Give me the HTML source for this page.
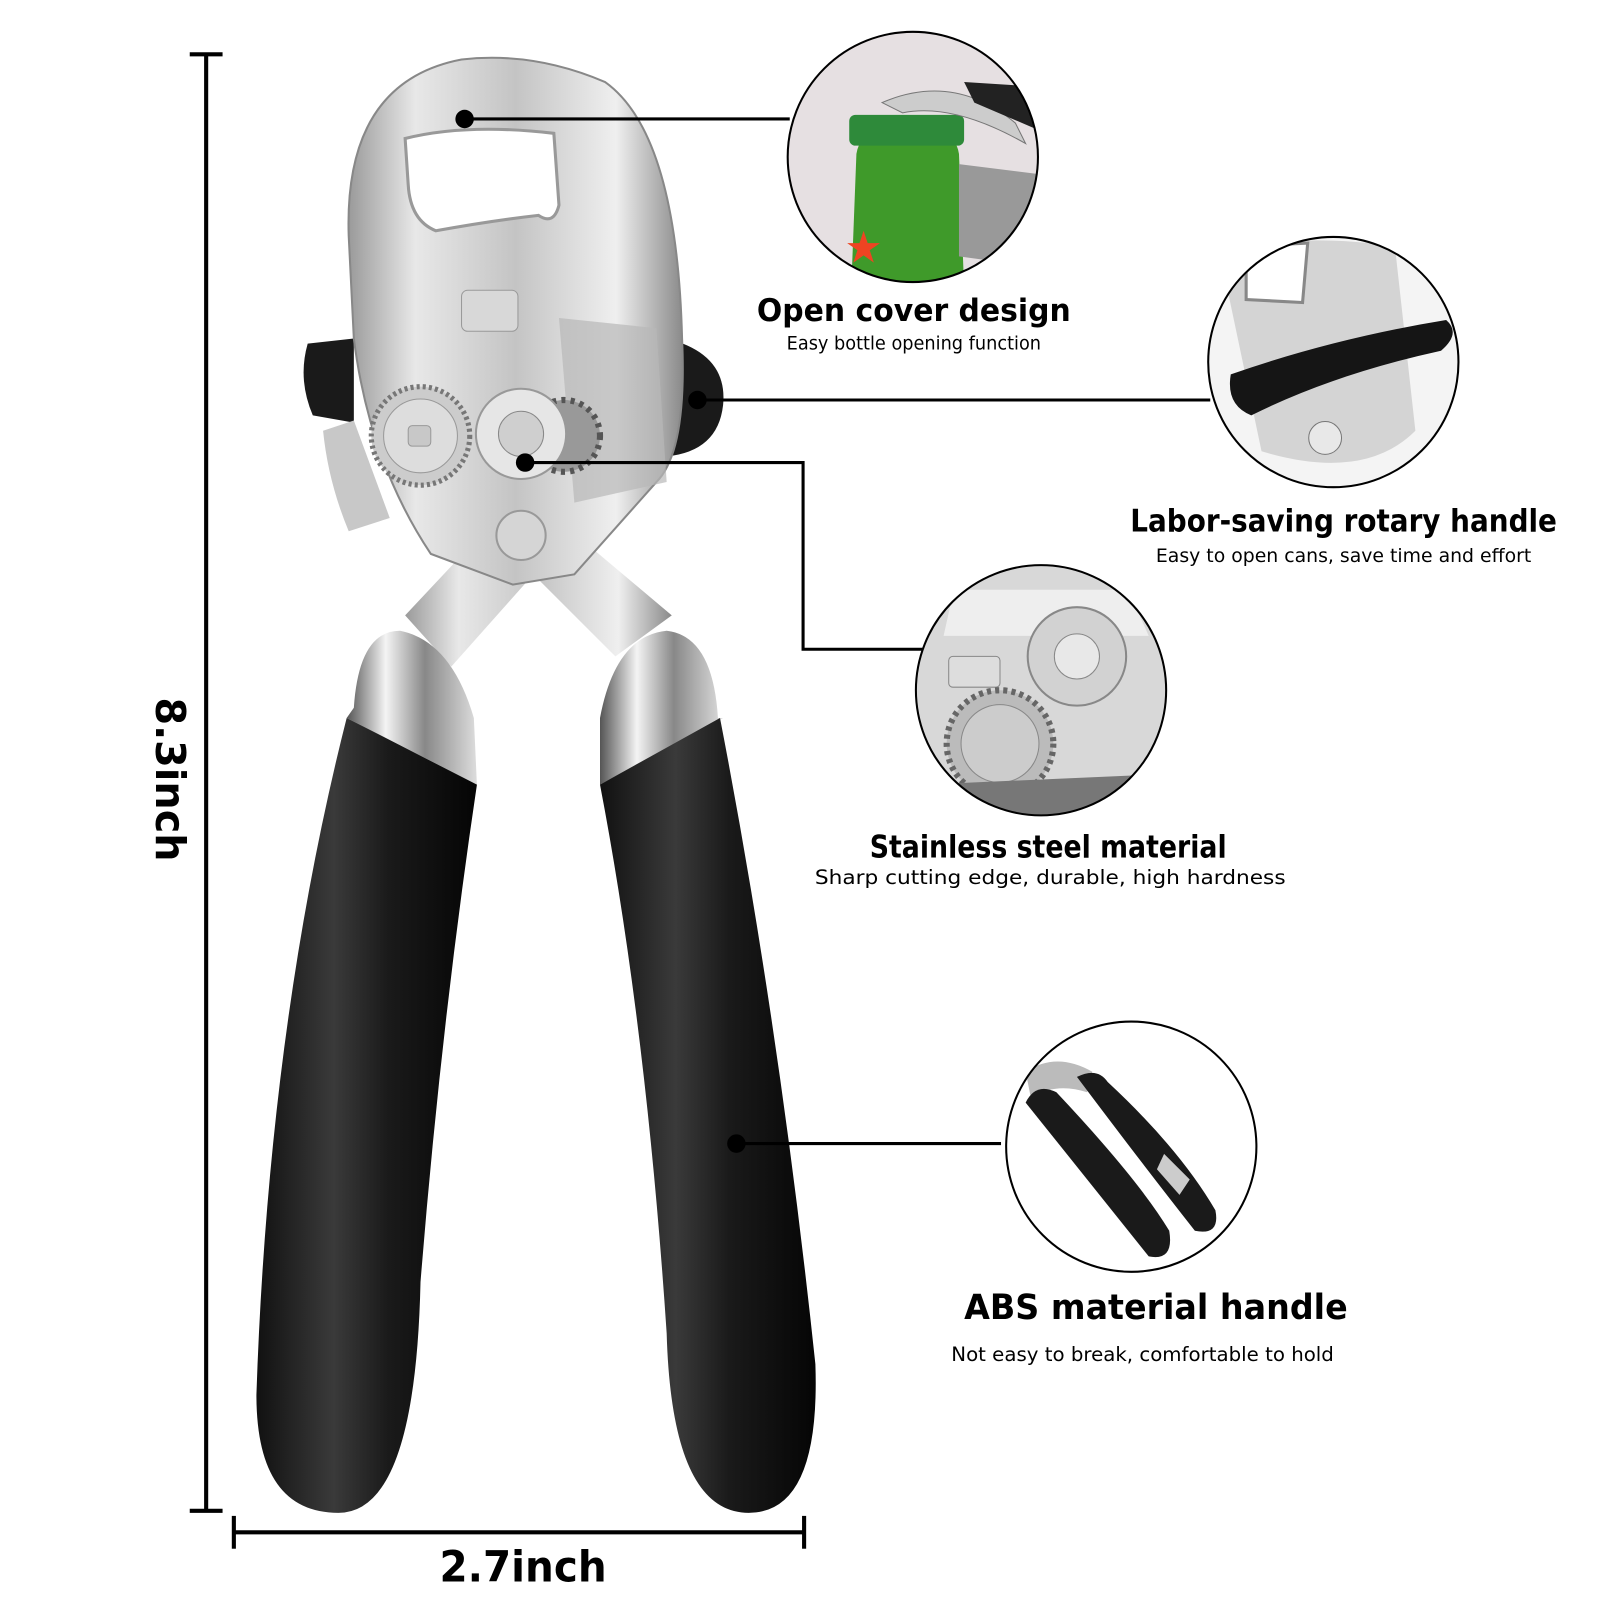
<!DOCTYPE html>
<html><head><meta charset="utf-8"><style>
html,body{margin:0;padding:0;background:#fff;}
svg{display:block;}
text{font-family:"DejaVu Sans","Liberation Sans",sans-serif;}
</style></head><body>
<svg width="1600" height="1600" viewBox="0 0 1560 1560" xmlns="http://www.w3.org/2000/svg">
<defs>
<linearGradient id="steel" x1="0" x2="1" y1="0" y2="0">
<stop offset="0" stop-color="#9a9a9a"/><stop offset="0.2" stop-color="#e8e8e8"/><stop offset="0.5" stop-color="#c4c4c4"/><stop offset="0.8" stop-color="#efefef"/><stop offset="1" stop-color="#8a8a8a"/></linearGradient>
<linearGradient id="blk" x1="0" x2="1"><stop offset="0" stop-color="#111"/><stop offset="0.35" stop-color="#3a3a3a"/><stop offset="0.6" stop-color="#1a1a1a"/><stop offset="1" stop-color="#050505"/></linearGradient>
<linearGradient id="chrome" x1="0" x2="1"><stop offset="0" stop-color="#555"/><stop offset="0.3" stop-color="#f4f4f4"/><stop offset="0.6" stop-color="#888"/><stop offset="1" stop-color="#ddd"/></linearGradient>
<clipPath id="c1"><circle cx="890" cy="153" r="122"/></clipPath>
<clipPath id="c2"><circle cx="1300" cy="353" r="122"/></clipPath>
<clipPath id="c3"><circle cx="1015" cy="673" r="122"/></clipPath>
<clipPath id="c4"><circle cx="1103" cy="1118" r="122"/></clipPath>
</defs>
<rect width="1560" height="1560" fill="#fff"/>

<g stroke="#000" stroke-width="4" fill="none">
<line x1="201" y1="53" x2="201" y2="1473"/><line x1="185" y1="53" x2="217" y2="53"/><line x1="185" y1="1473" x2="217" y2="1473"/>
<line x1="228" y1="1494" x2="784" y2="1494"/><line x1="228" y1="1478" x2="228" y2="1510"/><line x1="784" y1="1478" x2="784" y2="1510"/>
</g>
<text transform="translate(152,760) rotate(90)" text-anchor="middle" font-size="40" font-weight="bold" textLength="160" lengthAdjust="spacingAndGlyphs">8.3inch</text>
<text x="510" y="1542" text-anchor="middle" font-size="42" font-weight="bold" textLength="163" lengthAdjust="spacingAndGlyphs">2.7inch</text>

<path d="M300,335 Q290,370 305,405 L345,412 L345,330 Z" fill="#1a1a1a"/>
<path d="M650,330 Q710,345 705,395 Q700,440 650,445 Z" fill="#1a1a1a"/>
<path d="M315,420 L345,410 L380,505 L340,518 Q320,470 315,420 Z" fill="#c8c8c8"/>
<path d="M395,600 L470,520 L560,520 L655,600 L600,640 L520,560 L440,650 Z" fill="url(#steel)"/>
<path d="M340,230 Q335,80 450,58 Q520,50 590,80 Q660,130 665,330 Q670,440 640,470 L560,560 L500,570 L420,540 Q360,450 345,330 Z" fill="url(#steel)" stroke="#888" stroke-width="2"/>
<path d="M395,135 Q455,120 540,130 L545,200 Q540,220 525,210 Q480,215 425,225 Q400,215 398,180 Z" fill="#fff" stroke="#999" stroke-width="3"/>
<rect x="450" y="283" width="55" height="40" rx="6" fill="#d8d8d8" stroke="#999"/>
<path d="M545,310 L640,320 L650,470 L560,490 Z" fill="#b8b8b8" opacity="0.7"/>
<circle cx="410" cy="425" r="48" fill="#ccc" stroke="#777" stroke-width="5" stroke-dasharray="3 3"/>
<circle cx="410" cy="425" r="36" fill="#ddd" stroke="#999"/>
<rect x="398" y="415" width="22" height="20" rx="4" fill="#c8c8c8" stroke="#999"/>
<circle cx="550" cy="425" r="35" fill="#999" stroke="#555" stroke-width="6" stroke-dasharray="4 5"/>
<circle cx="508" cy="423" r="44" fill="#e6e6e6" stroke="#999" stroke-width="2"/>
<circle cx="508" cy="423" r="22" fill="#cfcfcf" stroke="#888"/>
<circle cx="508" cy="522" r="24" fill="#d5d5d5" stroke="#999" stroke-width="2"/>

<path d="M345,690 Q350,615 390,615 Q440,625 462,700 L465,765 L338,700 Z" fill="url(#chrome)"/>
<path d="M338,700 L465,765 Q430,1000 410,1250 Q405,1475 330,1475 Q250,1475 250,1360 Q262,1000 338,700 Z" fill="url(#blk)"/>
<path d="M585,700 Q600,620 650,615 Q695,620 700,700 L705,700 L585,765 Z" fill="url(#chrome)"/>
<path d="M585,765 L702,700 Q760,1000 795,1330 Q800,1475 730,1475 Q655,1475 650,1300 Q630,1000 585,765 Z" fill="url(#blk)"/>

<g stroke="#000" stroke-width="3" fill="none">
<line x1="453" y1="116" x2="770" y2="116"/>
<line x1="680" y1="390" x2="1180" y2="390"/>
<polyline points="512,451 783,451 783,633 900,633"/>
<line x1="718" y1="1115" x2="976" y2="1115"/>
</g>
<g fill="#000"><circle cx="453" cy="116" r="9"/><circle cx="680" cy="390" r="9"/><circle cx="512" cy="451" r="9"/><circle cx="718" cy="1115" r="9"/></g>

<g clip-path="url(#c1)">
<rect x="760" y="30" width="260" height="250" fill="#e6e0e2"/>
<path d="M830,280 L835,150 Q840,120 885,118 Q930,120 935,150 L940,280 Z" fill="#3f9a2a"/>
<rect x="828" y="112" width="112" height="30" rx="6" fill="#2e8a3a"/>
<path d="M860,100 Q930,70 990,120 L1000,140 Q930,100 880,110 Z" fill="#ccc" stroke="#777"/>
<path d="M940,80 L1020,85 L1020,130 L950,100 Z" fill="#222"/>
<path d="M935,160 L1015,170 L1010,260 L935,250 Z" fill="#999"/>
<polygon points="842,225 846,237 858,237 848,244 852,256 842,249 832,256 836,244 826,237 838,237" fill="#e42"/>
</g>
<circle cx="890" cy="153" r="122" fill="none" stroke="#000" stroke-width="2"/>

<g clip-path="url(#c2)">
<rect x="1170" y="230" width="260" height="250" fill="#f4f4f4"/>
<path d="M1190,250 Q1250,225 1360,240 L1380,420 Q1330,470 1230,440 Z" fill="#d4d4d4"/>
<path d="M1215,240 L1275,237 L1270,295 L1215,292 Z" fill="#fff" stroke="#888" stroke-width="3"/>
<path d="M1200,365 Q1300,330 1410,312 Q1425,325 1405,342 Q1300,365 1220,405 Q1195,395 1200,365 Z" fill="#151515"/>
<circle cx="1292" cy="427" r="16" fill="#e8e8e8" stroke="#777"/>
</g>
<circle cx="1300" cy="353" r="122" fill="none" stroke="#000" stroke-width="2"/>

<g clip-path="url(#c3)">
<rect x="890" y="550" width="250" height="250" fill="#d8d8d8"/>
<path d="M930,575 L1100,575 L1120,620 L920,620 Z" fill="#eee"/>
<rect x="925" y="640" width="50" height="30" rx="4" fill="#ddd" stroke="#888"/>
<circle cx="975" cy="725" r="52" fill="#bbb" stroke="#666" stroke-width="6" stroke-dasharray="4 4"/>
<circle cx="975" cy="725" r="38" fill="#ccc" stroke="#888"/>
<circle cx="1050" cy="640" r="48" fill="#d2d2d2" stroke="#888" stroke-width="2"/>
<circle cx="1050" cy="640" r="22" fill="#e8e8e8" stroke="#888"/>
<path d="M900,765 L1130,755 L1130,800 L900,800 Z" fill="#777"/>
</g>
<circle cx="1015" cy="673" r="122" fill="none" stroke="#000" stroke-width="2"/>

<g clip-path="url(#c4)">
<rect x="980" y="995" width="250" height="250" fill="#fff"/>
<path d="M1000,1045 Q1030,1025 1065,1045 L1060,1065 Q1030,1055 1005,1070 Z" fill="#bbb"/>
<path d="M1000,1075 Q1010,1055 1030,1065 Q1110,1150 1140,1200 Q1145,1230 1120,1225 Q1060,1150 1000,1075 Z" fill="#1a1a1a"/>
<path d="M1050,1050 Q1070,1040 1080,1055 Q1150,1120 1185,1180 Q1190,1205 1165,1200 Q1110,1130 1050,1050 Z" fill="#1a1a1a"/>
<path d="M1135,1125 L1160,1150 L1150,1165 L1128,1140 Z" fill="#ccc"/>
</g>
<circle cx="1103" cy="1118" r="122" fill="none" stroke="#000" stroke-width="2"/>

<text x="891" y="313" text-anchor="middle" font-size="30" font-weight="bold" textLength="306" lengthAdjust="spacingAndGlyphs">Open cover design</text>
<text x="891" y="341" text-anchor="middle" font-size="18" textLength="248" lengthAdjust="spacingAndGlyphs">Easy bottle opening function</text>
<text x="1310" y="518" text-anchor="middle" font-size="30" font-weight="bold" textLength="416" lengthAdjust="spacingAndGlyphs">Labor-saving rotary handle</text>
<text x="1310" y="548" text-anchor="middle" font-size="18" textLength="366" lengthAdjust="spacingAndGlyphs">Easy to open cans, save time and effort</text>
<text x="1022" y="836" text-anchor="middle" font-size="30" font-weight="bold" textLength="348" lengthAdjust="spacingAndGlyphs">Stainless steel material</text>
<text x="1024" y="862" text-anchor="middle" font-size="19" textLength="459" lengthAdjust="spacingAndGlyphs">Sharp cutting edge, durable, high hardness</text>
<text x="1127" y="1286" text-anchor="middle" font-size="34" font-weight="bold" textLength="374" lengthAdjust="spacingAndGlyphs">ABS material handle</text>
<text x="1114" y="1327" text-anchor="middle" font-size="19" textLength="373" lengthAdjust="spacingAndGlyphs">Not easy to break, comfortable to hold</text>
</svg>
</body></html>
